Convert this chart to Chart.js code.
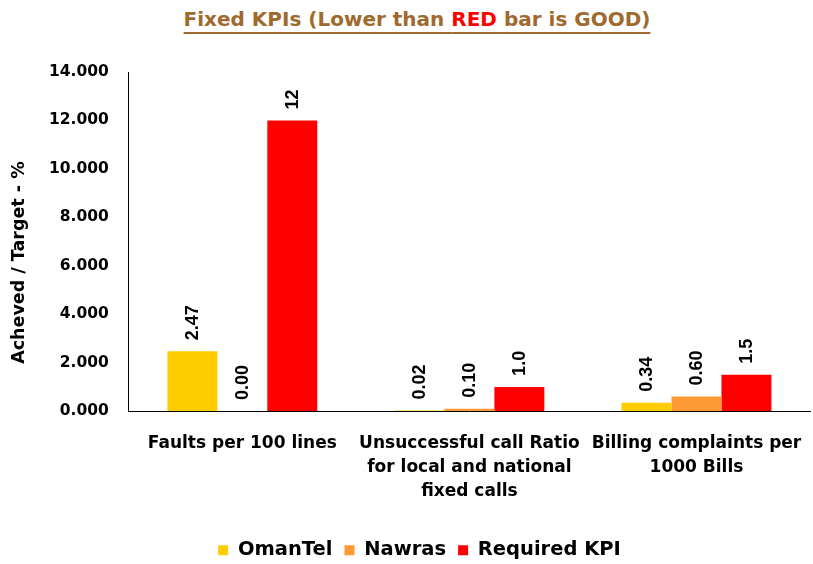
<!DOCTYPE html>
<html>
<head>
<meta charset="utf-8">
<script src="https://cdn.jsdelivr.net/npm/chart.js@4/dist/chart.umd.min.js"></script>
<style>
  html, body { margin: 0; padding: 0; background: #fff; }
  #wrap { position: relative; width: 813px; height: 564px; }
  #title {
    position: absolute; top: 7px; left: 0; width: 834px; text-align: center;
    font: bold 20px "DejaVu Sans", sans-serif; color: #A0692E;
    text-decoration: underline; text-underline-offset: 6px; text-decoration-thickness: 2px;
  }
  #title .red { color: #FF0000; }
  canvas { position: absolute; top: 0; left: 0; }
</style>
</head>
<body>
<div id="wrap">
  <div id="title">Fixed KPIs (Lower than <span class="red">RED</span> bar is GOOD)</div>
  <canvas id="chart" width="813" height="564"></canvas>
</div>
<script>
// Chart data
const categories = [
  ['Faults per 100 lines'],
  ['Unsuccessful call Ratio', 'for local and national', 'fixed calls'],
  ['Billing complaints per', '1000 Bills']
];
const omantel = [2.47, 0.02, 0.34];
const nawras = [0.00, 0.10, 0.60];
const requiredKpi = [12, 1.0, 1.5];
const requiredKpiLabels = ['12', '1.0', '1.5'];
const yTicks = [0, 2, 4, 6, 8, 10, 12, 14];
const yTitle = 'Acheved / Target - %';

const FONT = '"DejaVu Sans", sans-serif';

// Rotated value labels above each bar
const barLabels = {
  id: 'barLabels',
  afterDatasetsDraw(chart) {
    const ctx = chart.ctx;
    chart.data.datasets.forEach((ds, i) => {
      const meta = chart.getDatasetMeta(i);
      meta.data.forEach((bar, j) => {
        const text = ds.labelText ? ds.labelText[j] : ds.data[j].toFixed(2);
        ctx.save();
        ctx.translate(bar.x, bar.y - 11);
        ctx.rotate(-Math.PI / 2);
        ctx.font = 'bold 18px "Liberation Sans", Arial, sans-serif';
        ctx.fillStyle = '#000';
        ctx.textAlign = 'left';
        ctx.textBaseline = 'middle';
        ctx.fillText(text, 0, 1);
        ctx.restore();
      });
    });
  }
};

// Y axis title, sits a little below the middle of the plot like the original
const yAxisTitle = {
  id: 'yAxisTitle',
  afterDraw(chart) {
    const ctx = chart.ctx;
    const area = chart.chartArea;
    ctx.save();
    ctx.translate(19, (area.top + area.bottom) / 2 + 21);
    ctx.rotate(-Math.PI / 2);
    ctx.font = 'bold 17.5px ' + FONT;
    ctx.fillStyle = '#000';
    ctx.textAlign = 'center';
    ctx.textBaseline = 'middle';
    ctx.fillText(yTitle, 0, 0);
    ctx.restore();
  }
};

new Chart(document.getElementById('chart'), {
  type: 'bar',
  data: {
    labels: categories,
    datasets: [
      { label: 'OmanTel', data: omantel, backgroundColor: '#FFCC00' },
      { label: 'Nawras', data: nawras, backgroundColor: '#FF9933' },
      { label: 'Required KPI', data: requiredKpi, backgroundColor: '#FF0000', labelText: requiredKpiLabels }
    ]
  },
  options: {
    responsive: false,
    animation: false,
    layout: { padding: { top: 72, right: 3, left: 29, bottom: -6 } },
    datasets: { bar: { categoryPercentage: 0.66, barPercentage: 1.0 } },
    plugins: {
      legend: {
        position: 'bottom',
        labels: {
          boxWidth: 10, boxHeight: 10, padding: 12,
          color: '#000', font: { family: FONT, size: 19.5, weight: 'bold' }
        }
      },
      tooltip: { enabled: false },
      title: { display: false }
    },
    scales: {
      x: {
        grid: { display: false, drawTicks: false },
        border: { display: true, color: '#000', width: 1 },
        ticks: {
          color: '#000', padding: 21, maxRotation: 0, autoSkip: false,
          font: { family: FONT, size: 17, weight: 'bold', lineHeight: 1.4 }
        },
        // let the long category labels hang past the plot edge instead of shrinking it,
        // and leave a bit more room below them
        afterFit(scale) {
          scale.paddingLeft = 0;
          scale.paddingRight = 0;
          scale.height += 4;
        }
      },
      y: {
        min: 0, max: 14,
        afterBuildTicks(axis) { axis.ticks = yTicks.map(v => ({ value: v })); },
        grid: { display: false, drawTicks: false },
        border: { display: true, color: '#000', width: 1 },
        ticks: {
          color: '#000', padding: 20,
          font: { family: FONT, size: 15.5, weight: 'bold' },
          callback: v => v.toFixed(3)
        }
      }
    }
  },
  plugins: [barLabels, yAxisTitle]
});
</script>
</body>
</html>
